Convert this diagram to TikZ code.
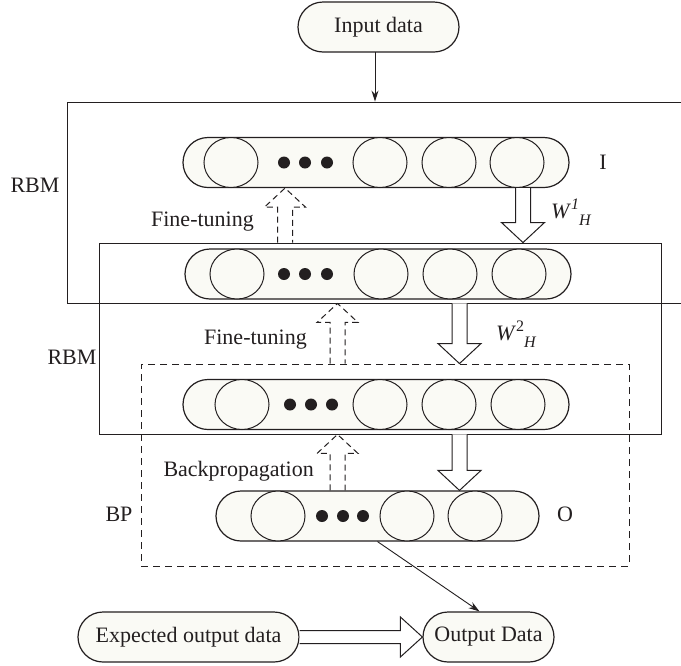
\documentclass[tikz,border=0pt]{standalone}
\usepackage{fontspec}
\setmainfont{Liberation Serif}
\usetikzlibrary{shapes.geometric,arrows.meta,calc}
\definecolor{pillfill}{HTML}{FAFAF5}
\definecolor{ink}{HTML}{231F20}
\newcommand{\hollowdown}[3][]{%
  \draw[#1] ($(#2)+(-7.5,0)$) -- ($(#3)+(-7.5,-20)$) -- ($(#3)+(-21.5,-20)$) -- (#3)
    -- ($(#3)+(21.5,-20)$) -- ($(#3)+(7.5,-20)$) -- ($(#2)+(7.5,0)$);}
\newcommand{\hollowup}[3][]{%
  \draw[#1] ($(#2)+(-7.5,0)$) -- ($(#3)+(-7.5,19)$) -- ($(#3)+(-20.5,19)$) -- (#3)
    -- ($(#3)+(20.5,19)$) -- ($(#3)+(7.5,19)$) -- ($(#2)+(7.5,0)$);}
\newcommand{\hollowright}[3][]{%
  \draw[#1] ($(#2)+(0,-6.5)$) -- ($(#3)+(-22,-6.5)$) -- ($(#3)+(-22,-20)$) -- (#3)
    -- ($(#3)+(-22,20)$) -- ($(#3)+(-22,6.5)$) -- ($(#2)+(0,6.5)$);}
\tikzset{
  pill/.style={draw=ink, line width=1.2pt, rounded corners=25pt, fill=pillfill,
    minimum height=50pt, inner sep=0pt, font=\fontsize{22}{25}\selectfont, text=ink},
  unit/.style={draw=ink, line width=1pt, ellipse, fill=pillfill, minimum width=54pt,
    minimum height=50pt, inner sep=0pt},
  dotn/.style={circle, fill=ink, minimum size=12pt, inner sep=0pt},
  frame/.style={draw=ink, line width=0.9pt, inner sep=0pt},
  lbl/.style={inner sep=0pt, font=\fontsize{22}{25}\selectfont, text=ink},
  solidarrow/.style={draw=ink, line width=1pt, fill=white},
  dasharrow/.style={draw=ink, line width=1pt, dash pattern=on 6pt off 4pt},
}
\begin{document}
\begin{tikzpicture}[x=1pt,y=-1pt]
\clip (0,0) rectangle (681,665);
\useasboundingbox (0,0) rectangle (681,665);
\fill[white] (0,0) rectangle (681,665);

% frames
\node[frame, minimum width=630pt, minimum height=201pt] (box1) at (382,202.5) {};
\node[frame, minimum width=562pt, minimum height=191pt] (box2) at (380,338.5) {};
\node[draw=ink, line width=0.9pt, dash pattern=on 7pt off 5pt, inner sep=0pt,
      minimum width=488pt, minimum height=202pt] (bp) at (385,465) {};

% input
\node[pill, minimum width=161pt] (inp) at (378.5,27) {Input data};
\coordinate (ia) at (375,52);
\draw[ink, line width=1pt, -{Stealth[length=11pt,width=7pt]}] (ia) -- (ia |- box1.north);

% row 1
\node[pill, minimum width=386pt] (r1) at (376,162.5) {};
\node[unit] (r1c1) at (231,162.5) {};
\node[dotn] (r1d1) at (284,162.5) {};
\node[dotn] (r1d2) at (305,162.5) {};
\node[dotn] (r1d3) at (327,162.5) {};
\node[unit] (r1c2) at (380,162.5) {};
\node[unit] (r1c3) at (449,162.5) {};
\node[unit] (r1c4) at (517,162.5) {};

% row 2
\node[pill, minimum width=386pt] (r2) at (378,274) {};
\node[unit] (r2c1) at (237,274) {};
\node[dotn] (r2d1) at (284,274) {};
\node[dotn] (r2d2) at (305,274) {};
\node[dotn] (r2d3) at (327,274) {};
\node[unit] (r2c2) at (381,274) {};
\node[unit] (r2c3) at (450,274) {};
\node[unit] (r2c4) at (519,274) {};

% row 3
\node[pill, minimum width=386pt] (r3) at (376,404.5) {};
\node[unit] (r3c1) at (242,404.5) {};
\node[dotn] (r3d1) at (290,404.5) {};
\node[dotn] (r3d2) at (311,404.5) {};
\node[dotn] (r3d3) at (332,404.5) {};
\node[unit] (r3c2) at (380,404.5) {};
\node[unit] (r3c3) at (449,404.5) {};
\node[unit] (r3c4) at (518,404.5) {};

% row 4
\node[pill, minimum width=323pt] (r4) at (377.5,516) {};
\node[unit] (r4c1) at (278,516) {};
\node[dotn] (r4d1) at (322,516) {};
\node[dotn] (r4d2) at (343,516) {};
\node[dotn] (r4d3) at (363,516) {};
\node[unit] (r4c2) at (407,516) {};
\node[unit] (r4c3) at (475,516) {};

% bottom pills
\node[pill, minimum width=221pt] (exp) at (188.5,637) {Expected output data};
\node[pill, minimum width=131pt] (outp) at (488.5,637) {Output Data};

% labels
\node[lbl] (rbm1) at (35,185) {RBM};
\node[lbl] (rbm2) at (72,357) {RBM};
\node[lbl] (bpl) at (119,514) {BP};
\node[lbl] (il) at (603,162) {I};
\node[lbl] (ol) at (565,514) {O};
\node[lbl, anchor=east] (ft1) at (254,222) {Fine-tuning};
\node[lbl, anchor=east] (ft2) at (307,340) {Fine-tuning};
\node[lbl, anchor=east] (bpt) at (314,471) {Backpropagation};
\node[lbl, anchor=west] (w1) at (551,212) {\textit{W}\raisebox{.42em}{\fontsize{16}{16}\selectfont\textit{1}}\raisebox{-.32em}{\fontsize{16}{16}\selectfont\textit{H}}};
\node[lbl, anchor=west] (w2) at (496,334) {\textit{W}\raisebox{.42em}{\fontsize{16}{16}\selectfont 2}\raisebox{-.32em}{\fontsize{16}{16}\selectfont\textit{H}}};

% reference x positions
\coordinate (xa) at (523,0);
\coordinate (xb) at (459.5,0);
\coordinate (xc) at (285,0);
\coordinate (xd) at (337.5,0);

% hollow solid arrows
\coordinate (d1s) at (xa |- r1.south);
\coordinate (d1e) at (xa |- box2.north);
\hollowdown[solidarrow]{d1s}{d1e}
\coordinate (d2s) at (xb |- box1.south);
\coordinate (d2e) at (xb |- bp.north);
\hollowdown[solidarrow]{d2s}{d2e}
\coordinate (d3s) at (xb |- box2.south);
\coordinate (d3e) at (xb |- r4.north);
\hollowdown[solidarrow]{d3s}{d3e}

% dashed up arrows
\coordinate (u1s) at (xc |- box2.north);
\coordinate (u1e) at (xc |- r1.south);
\hollowup[dasharrow]{u1s}{u1e}
\coordinate (u2s) at (xd |- bp.north);
\coordinate (u2e) at (xd |- box1.south);
\hollowup[dasharrow]{u2s}{u2e}
\coordinate (u3s) at (xd |- r4.north);
\coordinate (u3e) at (xd |- box2.south);
\hollowup[dasharrow]{u3s}{u3e}

% output connectors
\draw[ink, line width=0.9pt, -{Stealth[length=11pt,width=7pt]}] (r4.south) -- ($(outp.north)+(-9,0)$);
\hollowright[solidarrow]{exp.east}{outp.west}
\end{tikzpicture}
\end{document}
